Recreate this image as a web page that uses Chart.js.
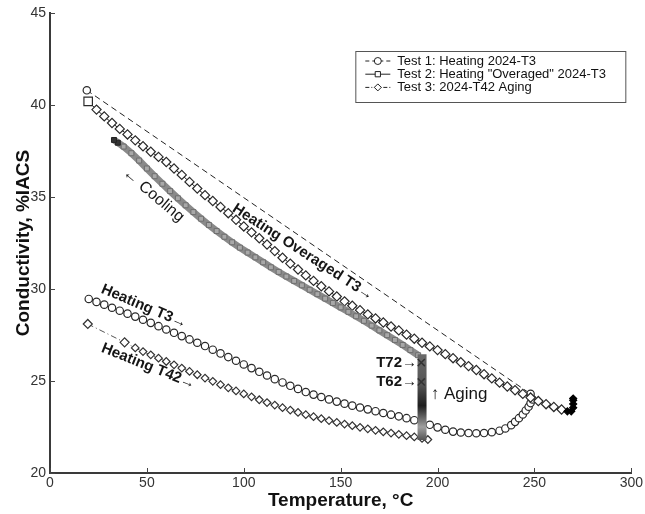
<!DOCTYPE html>
<html>
<head>
<meta charset="utf-8">
<script src="https://cdn.jsdelivr.net/npm/chart.js@4.4.1/dist/chart.umd.min.js"></script>
<style>
  html, body { margin: 0; padding: 0; background: #fff; }
  #wrap { width: 645px; height: 514px; }
</style>
</head>
<body>
<div id="wrap"><canvas id="chart" width="645" height="514"></canvas></div>
<script>
// Axis ticks
const xTicks = [0, 50, 100, 150, 200, 250, 300];
const yTicks = [20, 25, 30, 35, 40, 45];

// Test 1: heating 2024-T3 (circles), then cooling back along the dashed line
const test1HeatT = [20, 24, 28, 32, 36, 40, 44, 48, 52, 56, 60, 64, 68, 72, 76, 80, 84, 88, 92, 96,
  100, 104, 108, 112, 116, 120, 124, 128, 132, 136, 140, 144, 148, 152, 156, 160, 164, 168, 172, 176,
  180, 184, 188, 192, 196, 200, 204, 208, 212, 216, 220, 224, 228, 232, 235, 238, 240, 242, 244, 245.5,
  247, 248, 249];
const test1HeatC = [29.46, 29.3, 29.15, 28.98, 28.82, 28.66, 28.5, 28.33, 28.16, 27.98, 27.8, 27.62, 27.44, 27.26, 27.08, 26.9, 26.7, 26.5, 26.3, 26.1,
  25.9, 25.7, 25.5, 25.3, 25.1, 24.92, 24.74, 24.57, 24.4, 24.26, 24.13, 24.0, 23.88, 23.77, 23.66, 23.56, 23.46, 23.36, 23.26, 23.17,
  23.08, 22.98, 22.87, 22.75, 22.62, 22.48, 22.35, 22.25, 22.2, 22.17, 22.16, 22.17, 22.22, 22.3, 22.42, 22.6, 22.78, 22.98, 23.18, 23.4,
  23.6, 23.8, 24.0];
const test1CoolT = [248, 19];
const test1CoolC = [24.3, 40.8];

// Test 2: heating "overaged" 2024-T3
const test2T = [19.7, 24, 28, 32, 36, 40, 44, 48, 52, 56, 60, 64, 68, 72, 76, 80, 84, 88, 92, 96,
  100, 104, 108, 112, 116, 120, 124, 128, 132, 136, 140, 144, 148, 152, 156, 160, 164, 168, 172, 176,
  180, 184, 188, 192, 196, 200, 204, 208, 212, 216, 220, 224, 228, 232, 236, 240, 244, 248, 252, 256,
  260, 264, 267, 269, 270, 270, 270, 270];
const test2C = [40.2, 39.75, 39.38, 39.02, 38.7, 38.4, 38.08, 37.76, 37.46, 37.18, 36.9, 36.55, 36.2, 35.82, 35.46, 35.1, 34.78, 34.46, 34.12, 33.76,
  33.4, 33.08, 32.76, 32.42, 32.06, 31.7, 31.38, 31.06, 30.74, 30.44, 30.15, 29.87, 29.59, 29.33, 29.09, 28.85, 28.62, 28.4, 28.18, 27.96,
  27.75, 27.52, 27.3, 27.08, 26.88, 26.68, 26.46, 26.24, 26.02, 25.81, 25.6, 25.37, 25.14, 24.91, 24.7, 24.5, 24.3, 24.1, 23.91, 23.74,
  23.59, 23.45, 23.35, 23.35, 23.55, 23.75, 23.95, 24.05];

// Test 3: 2024-T42 heating, aging hold, cooling
const test3HeatT = [19.5, 38.5, 44, 48, 52, 56, 60, 64, 68, 72, 76, 80, 84, 88, 92, 96, 100, 104, 108, 112,
  116, 120, 124, 128, 132, 136, 140, 144, 148, 152, 156, 160, 164, 168, 172, 176, 180, 184, 188, 192, 195];
const test3HeatC = [28.1, 27.1, 26.8, 26.6, 26.42, 26.24, 26.06, 25.88, 25.7, 25.52, 25.34, 25.16, 24.98, 24.8, 24.63, 24.46, 24.3, 24.14, 23.98, 23.83,
  23.69, 23.55, 23.42, 23.29, 23.17, 23.06, 22.95, 22.85, 22.75, 22.66, 22.57, 22.48, 22.4, 22.32, 22.24, 22.17, 22.1, 22.03, 21.96, 21.88, 21.82];
const agingT = [192, 192, 192, 192, 192, 192, 192, 192];
const agingC = [21.8, 22.5, 23.2, 23.9, 24.6, 25.3, 26.0, 26.45];
const temperT = [191.6, 191.6];
const temperC = [26.0, 24.95];
const temperNames = ['T72', 'T62'];
const coolT = [190, 186, 182, 178, 174, 170, 166, 162, 158, 154, 150, 146, 142, 138, 134, 130, 126, 122, 118, 114,
  110, 106, 102, 98, 94, 90, 86, 82, 78, 74, 70, 66, 62, 58, 54, 50, 46, 42, 38, 35, 33];
const coolC = [26.4, 26.68, 26.96, 27.23, 27.49, 27.75, 28.01, 28.27, 28.52, 28.76, 29.0, 29.24, 29.48, 29.72, 29.96, 30.2, 30.44, 30.68, 30.93, 31.18,
  31.45, 31.72, 31.98, 32.25, 32.54, 32.84, 33.15, 33.48, 33.82, 34.18, 34.55, 34.93, 35.32, 35.72, 36.13, 36.55, 36.98, 37.38, 37.74, 37.95, 38.1];

const seriesNames = ['Test 1: Heating 2024-T3', 'Test 2: Heating "Overaged" 2024-T3', 'Test 3: 2024-T42 Aging'];

const pts = (xs, ys) => xs.map((x, i) => ({ x, y: ys[i] }));
const FONT = '"Liberation Sans", Arial, sans-serif';
Chart.defaults.font.family = FONT;

const test1Data = pts(test1HeatT, test1HeatC).concat(pts(test1CoolT, test1CoolC));
const blobStart = test2T.length - 6;

// annotation text drawn at data positions
function note(chart, txt, T, C, deg, font, align) {
  const { ctx, scales } = chart;
  ctx.save();
  ctx.translate(scales.x.getPixelForValue(T), scales.y.getPixelForValue(C));
  ctx.rotate(deg * Math.PI / 180);
  ctx.font = font;
  ctx.fillStyle = '#151515';
  ctx.textAlign = align || 'center';
  ctx.textBaseline = 'middle';
  ctx.fillText(txt, 0, 0);
  ctx.restore();
}

function marker(ctx, style, x, y, r) {
  ctx.beginPath();
  if (style === 'circle') ctx.arc(x, y, r, 0, Math.PI * 2);
  else if (style === 'rect') ctx.rect(x - r * 0.75, y - r * 0.75, r * 1.5, r * 1.5);
  else { ctx.moveTo(x, y - r); ctx.lineTo(x + r, y); ctx.lineTo(x, y + r); ctx.lineTo(x - r, y); ctx.closePath(); }
  ctx.fillStyle = '#fff';
  ctx.fill();
  ctx.setLineDash([]);
  ctx.stroke();
}

const overlay = {
  id: 'overlay',
  afterDraw(chart) {
    const { ctx, chartArea: a, scales } = chart;
    ctx.save();
    // inward tick marks
    ctx.strokeStyle = '#444';
    ctx.lineWidth = 1;
    xTicks.forEach((v) => {
      const px = Math.round(scales.x.getPixelForValue(v)) + 0.5;
      ctx.beginPath(); ctx.moveTo(px, a.bottom); ctx.lineTo(px, a.bottom - 5); ctx.stroke();
    });
    yTicks.forEach((v) => {
      const py = Math.round(scales.y.getPixelForValue(v)) + 0.5;
      ctx.beginPath(); ctx.moveTo(a.left, py); ctx.lineTo(a.left + 5, py); ctx.stroke();
    });

    // annotations
    const bold = 'bold 15px ' + FONT;
    note(chart, 'Heating Overaged T3\u2192', 130.5, 32.0, 33, bold);
    note(chart, '\u2190 Cooling', 53.4, 35.1, 40, '16px ' + FONT);
    note(chart, 'Heating T3\u2192', 48.5, 29.05, 23, bold);
    note(chart, 'Heating T42\u2192', 50.8, 25.8, 22, bold);
    temperNames.forEach((n, i) => note(chart, n + '\u2192', temperT[i] - 2.2, temperC[i], 0, bold, 'right'));
    note(chart, '\u2191 Aging', 196.5, 24.25, 0, '17px ' + FONT, 'left');

    // legend box
    const lx = a.right - 276, ly = a.top + 38, lw = 270, lh = 51;
    ctx.fillStyle = '#fff';
    ctx.fillRect(lx, ly, lw, lh);
    ctx.strokeStyle = '#555';
    ctx.strokeRect(lx + 0.5, ly + 0.5, lw, lh);
    const styles = [['circle', [4, 3]], ['rect', []], ['diamond', [4, 2, 1, 2]]];
    ctx.font = '13px ' + FONT;
    seriesNames.forEach((name, i) => {
      const ry = ly + 10 + i * 13.2;
      ctx.strokeStyle = '#222';
      ctx.lineWidth = 1;
      ctx.setLineDash(styles[i][1]);
      ctx.beginPath(); ctx.moveTo(lx + 10, ry); ctx.lineTo(lx + 35, ry); ctx.stroke();
      marker(ctx, styles[i][0], lx + 22.5, ry, 3.5);
      ctx.fillStyle = '#111';
      ctx.textAlign = 'left';
      ctx.textBaseline = 'middle';
      ctx.fillText(name, lx + 42, ry + 0.5);
    });
    ctx.restore();
  },
};

new Chart(document.getElementById('chart'), {
  type: 'scatter',
  data: {
    datasets: [
      {
        label: 'Test 3 aging',
        data: pts(agingT, agingC),
        showLine: true,
        borderWidth: 9,
        borderColor: (c) => {
          const { chart } = c;
          if (!chart.chartArea) return '#555';
          const y0 = chart.scales.y.getPixelForValue(agingC[agingC.length - 1]);
          const y1 = chart.scales.y.getPixelForValue(agingC[0]);
          const g = chart.ctx.createLinearGradient(0, y0, 0, y1);
          g.addColorStop(0, '#6a6a6a');
          g.addColorStop(0.35, '#555');
          g.addColorStop(0.6, '#1e1e1e');
          g.addColorStop(0.85, '#a0a0a0');
          g.addColorStop(1, '#555');
          return g;
        },
        pointRadius: 0,
        order: 1,
      },
      {
        label: 'Temper marks',
        data: pts(temperT, temperC),
        showLine: false,
        pointStyle: 'crossRot',
        pointRadius: 5,
        pointBorderColor: '#333',
        pointBorderWidth: 1.5,
        order: 0,
      },
      {
        label: 'Test 3 cooling',
        data: pts(coolT, coolC),
        showLine: true,
        borderColor: '#8a8a8a',
        borderWidth: 7,
        pointStyle: 'rect',
        pointRadius: 3.5,
        pointBorderWidth: 1,
        pointBorderColor: (c) => (coolT[c.dataIndex] < 37 ? '#222' : '#6e6e6e'),
        pointBackgroundColor: (c) => (coolT[c.dataIndex] < 37 ? '#333' : '#a8a8a8'),
        order: 2,
      },
      {
        label: seriesNames[2],
        data: pts(test3HeatT, test3HeatC),
        showLine: true,
        borderColor: '#555',
        borderWidth: 1,
        borderDash: [6, 3, 1, 3],
        pointStyle: 'rectRot',
        pointRadius: (c) => (c.dataIndex < 2 ? 4.5 : 3.8),
        pointBorderWidth: 1.2,
        pointBorderColor: '#333',
        pointBackgroundColor: '#fff',
        order: 3,
      },
      {
        label: seriesNames[1],
        data: pts(test2T, test2C),
        showLine: true,
        borderColor: '#222',
        borderWidth: 1,
        pointStyle: (c) => (c.dataIndex === 0 ? 'rect' : 'rectRot'),
        pointRadius: (c) => (c.dataIndex === 0 ? 6 : (c.dataIndex >= blobStart ? 3.5 : 4.6)),
        pointBorderWidth: 1.2,
        pointBorderColor: (c) => (c.dataIndex >= blobStart ? '#000' : '#2a2a2a'),
        pointBackgroundColor: (c) => (c.dataIndex >= blobStart ? '#000' : '#fff'),
        order: 4,
      },
      {
        label: seriesNames[0],
        data: test1Data,
        showLine: true,
        borderColor: '#222',
        borderWidth: 1,
        borderDash: [6, 4],
        pointStyle: 'circle',
        pointRadius: 3.7,
        pointBorderWidth: 1.2,
        pointBorderColor: '#2a2a2a',
        pointBackgroundColor: '#fff',
        order: 5,
      },
    ],
  },
  options: {
    responsive: false,
    animation: false,
    layout: {
      padding: { top: 13, right: 11, left: 0, bottom: 0 },
    },
    scales: {
      x: {
        type: 'linear',
        min: 0,
        max: 300,
        afterBuildTicks: (s) => { s.ticks = xTicks.map((v) => ({ value: v })); },
        afterFit: (s) => { s.height = 41; },
        grid: { display: false, drawTicks: false },
        border: { display: true, color: '#3a3a3a', width: 2 },
        ticks: { color: '#333', font: { size: 14 }, padding: 2, maxRotation: 0 },
        title: {
          display: true,
          text: 'Temperature, \u00b0C',
          color: '#111',
          font: { size: 19, weight: 'bold' },
          padding: { top: 0, bottom: 2 },
        },
      },
      y: {
        type: 'linear',
        min: 20,
        max: 45,
        afterBuildTicks: (s) => { s.ticks = yTicks.map((v) => ({ value: v })); },
        afterFit: (s) => { s.width = 50; },
        grid: { display: false, drawTicks: false },
        border: { display: true, color: '#3a3a3a', width: 2 },
        ticks: { color: '#333', font: { size: 14 }, padding: 4 },
        title: {
          display: true,
          text: 'Conductivity, %IACS',
          color: '#111',
          font: { size: 19, weight: 'bold' },
          padding: { top: 12, bottom: 0 },
        },
      },
    },
    plugins: {
      legend: { display: false },
      tooltip: { enabled: false },
    },
  },
  plugins: [overlay],
});
</script>
</body>
</html>
